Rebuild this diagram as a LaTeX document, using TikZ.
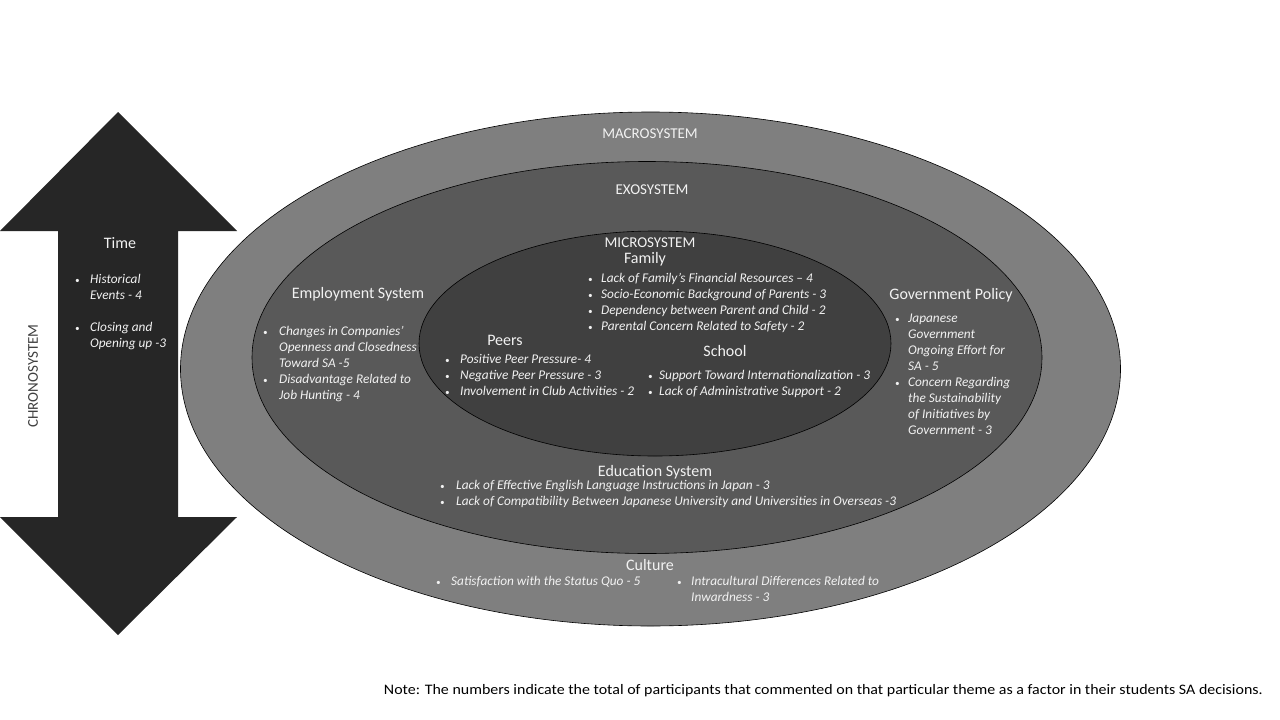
\documentclass[tikz,border=0pt]{standalone}
\usepackage{fontspec}
\setmainfont{Carlito}
\usetikzlibrary{positioning}
\definecolor{macrofill}{RGB}{127,127,127}
\definecolor{exofill}{RGB}{89,89,89}
\definecolor{microfill}{RGB}{64,64,64}
\definecolor{arrowfill}{RGB}{38,38,38}
\definecolor{lighttext}{RGB}{242,242,242}
\definecolor{darktext}{RGB}{64,64,64}
\newcommand{\bul}{{\fontsize{9}{16}\selectfont\textbullet}}
\newcommand{\factors}[2]{\begin{tabular}{@{}p{#1}@{}l@{}}#2\end{tabular}}
\tikzset{
  sysname/.style = {text=lighttext, font=\fontsize{15}{18}\selectfont, inner sep=0},
  grouphead/.style = {text=lighttext, font=\fontsize{16}{19}\selectfont, inner sep=0},
  factorlist/.style = {text=lighttext, font=\fontsize{13.3}{16}\selectfont\itshape, anchor=north west, inner sep=0},
  sysring/.style = {draw=black, line width=0.6pt},
}

\begin{document}
\begin{tikzpicture}[x=1pt, y=-1pt]
\fill[white] (0,0) rectangle (1280,720);
\useasboundingbox (0,0) rectangle (1280,720);
% chronosystem
\fill[arrowfill] (118,112) -- (237,231) -- (178,231) -- (178,517) -- (237,517)
  -- (118,635) -- (0,517) -- (58,517) -- (58,231) -- (0,231) -- cycle;
\node[rotate=90, text=darktext, font=\fontsize{15}{18}\selectfont, inner sep=0] (chrono) at (33,376) {CHRONOSYSTEM};
\node[grouphead] (time) at (120,243) {Time};
\node[factorlist] (timelist) at (75,272) {\factors{15pt}{%
  \bul & Historical\\ & Events - 4\\ & \\
  \bul & Closing and\\ & Opening up -3}};
% nested systems
\filldraw[sysring, fill=macrofill] (650.5,369) ellipse [x radius=470pt, y radius=257pt];
\filldraw[sysring, fill=exofill] (647,357.5) ellipse [x radius=395pt, y radius=196pt];
\filldraw[sysring, fill=microfill] (655,343.5) ellipse [x radius=236pt, y radius=112.5pt];
\node[sysname] (macro) at (650,134) {MACROSYSTEM};
\node[sysname] (exo) at (652,190) {EXOSYSTEM};
\node[sysname] (micro) at (650,243) {MICROSYSTEM};
% microsystem
\node[grouphead] (family) at (645,259) {Family};
\node[factorlist] (familylist) at (588,271) {\factors{13pt}{%
  \bul & Lack of Family's Financial Resources -- 4\\
  \bul & Socio-Economic Background of Parents - 3\\
  \bul & Dependency between Parent and Child - 2\\
  \bul & Parental Concern Related to Safety - 2}};
\node[grouphead] (peers) at (505,340) {Peers};
\node[factorlist] (peerslist) at (445,352) {\factors{15pt}{%
  \bul & Positive Peer Pressure- 4\\
  \bul & Negative Peer Pressure - 3\\
  \bul & Involvement in Club Activities - 2}};
\node[grouphead] (school) at (725,351) {School};
\node[factorlist] (schoollist) at (648,368) {\factors{11pt}{%
  \bul & Support Toward Internationalization - 3\\
  \bul & Lack of Administrative Support - 2}};
% exosystem
\node[grouphead] (employ) at (358,294) {Employment System};
\node[factorlist] (employlist) at (263,324) {\factors{16pt}{%
  \bul & Changes in Companies'\\ & Openness and Closedness\\ & Toward SA -5\\
  \bul & Disadvantage Related to\\ & Job Hunting - 4}};
\node[grouphead] (gov) at (951,295) {Government Policy};
\node[factorlist] (govlist) at (895,311) {\factors{13pt}{%
  \bul & Japanese\\ & Government\\ & Ongoing Effort for\\ & SA - 5\\
  \bul & Concern Regarding\\ & the Sustainability\\ & of Initiatives by\\ & Government - 3}};
\node[grouphead] (edu) at (655,472) {Education System};
\node[factorlist] (edulist) at (440,478) {\factors{16pt}{%
  \bul & Lack of Effective English Language Instructions in Japan - 3\\
  \bul & Lack of Compatibility Between Japanese University and Universities in Overseas -3}};
% macrosystem
\node[grouphead] (culture) at (650,565) {Culture};
\node[factorlist] (culturelist) at (436,574) {\factors{15pt}{%
  \bul & Satisfaction with the Status Quo - 5}};
\node[factorlist] (culturelist2) at (677,574) {\factors{14pt}{%
  \bul & Intracultural Differences Related to\\ & Inwardness - 3}};
% note
\node[anchor=east, inner sep=0, font=\fontsize{14.5}{17}\selectfont] (note) at (1263,691)
  {\scalebox{1.1}[1]{Note: The numbers indicate the total of participants that commented on that particular theme as a factor in their students SA decisions.}};
\end{tikzpicture}
\end{document}
